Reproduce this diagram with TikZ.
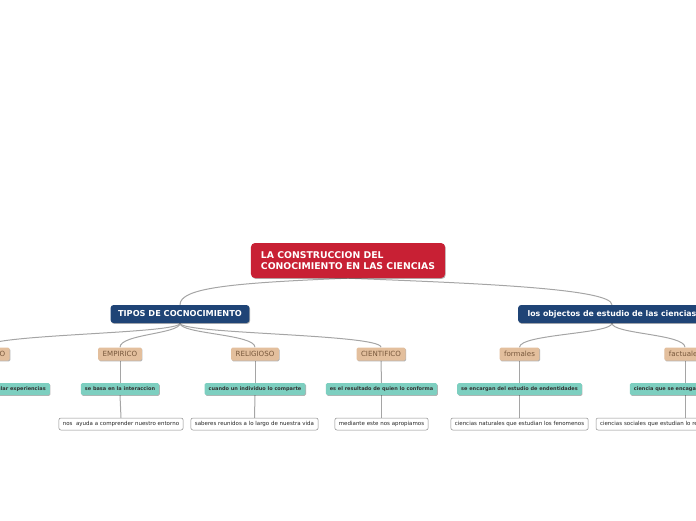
\documentclass[tikz,border=0pt]{standalone}
\usepackage{fontspec}
\usepackage{tikz}
\usetikzlibrary{backgrounds,shadows}
\newfontfamily\mapfont{DejaVu Sans}
\definecolor{rootred}{RGB}{200,32,52}
\definecolor{topblue}{RGB}{31,68,118}
\definecolor{tantone}{RGB}{227,191,157}
\definecolor{tantext}{RGB}{120,88,60}
\definecolor{tealtone}{RGB}{125,207,192}
\definecolor{linegray}{RGB}{165,165,165}

\begin{document}
\begin{tikzpicture}[x=1pt,y=1pt,
  boxshadow/.style={drop shadow={shadow xshift=0.7pt,shadow yshift=-0.9pt,opacity=0.3,fill=black}},
  rootbox/.style={fill=rootred,rounded corners=4pt,text=white,align=left,
    font=\mapfont\bfseries\fontsize{9.3}{11}\selectfont,inner xsep=10pt,minimum height=35pt,boxshadow},
  topbox/.style={fill=topblue,rounded corners=3pt,text=white,
    font=\mapfont\bfseries\fontsize{8.2}{9}\selectfont,inner xsep=7.5pt,minimum height=18pt,boxshadow},
  tanbox/.style={fill=tantone,rounded corners=1.5pt,text=tantext,
    font=\mapfont\fontsize{7.1}{8}\selectfont,inner xsep=4.5pt,minimum height=13pt,boxshadow},
  tealbox/.style={fill=tealtone,rounded corners=1.5pt,text=black!80,
    font=\mapfont\bfseries\fontsize{5}{6}\selectfont,inner xsep=4pt,minimum height=12pt,boxshadow},
  notebox/.style={fill=white,draw=black!45,line width=0.5pt,rounded corners=2pt,text=black!85,
    font=\mapfont\fontsize{5.5}{6}\selectfont,inner xsep=4pt,minimum height=12pt},
  link/.style={draw=linegray,line width=1pt}]
\useasboundingbox (0,-520) rectangle (696,0);
\clip (0,-520) rectangle (696,0);
% main topic and first branches:
\node[rootbox] (root) at (348,-260.5) {LA CONSTRUCCION DEL\\CONOCIMIENTO EN LAS CIENCIAS};
\node[topbox] (tipos) at (180,-314) {TIPOS DE COCNOCIMIENTO};
\node[topbox,font=\mapfont\bfseries\fontsize{7.8}{9}\selectfont,inner xsep=9.5pt] (objetos) at (612,-314) {los objectos de estudio de las ciencias};
% types of knowledge:
\node[tanbox] (filo) at (-16,-354) {FILOSOFICO};
\node[tanbox] (emp) at (120,-354) {EMPIRICO};
\node[tanbox] (rel) at (255,-354) {RELIGIOSO};
\node[tanbox] (cien) at (381,-354) {CIENTIFICO};
\node[tanbox] (form) at (519.5,-354) {formales};
\node[tanbox] (fact) at (685,-354) {factuales};
\node[tealbox] (filoA) at (-2,-389) {se basa en acumular experiencias};
\node[tealbox] (empA) at (120,-389) {se basa en la interaccion};
\node[tealbox] (relA) at (255,-389) {cuando un individuo lo comparte};
\node[tealbox] (cienA) at (381.5,-389) {es el resultado de quien lo conforma};
\node[tealbox] (formA) at (519.5,-389) {se encargan del estudio de endentidades};
\node[tealbox] (factA) at (685,-389) {ciencia que se encaga de los hechos};
\node[notebox] (empB) at (121,-424) {nos\ \ ayuda a comprender nuestro entorno};
\node[notebox] (relB) at (254.5,-424) {saberes reunidos a lo largo de nuestra vida};
\node[notebox] (cienB) at (381.5,-424) {mediante este nos apropiamos};
\node[notebox] (formB) at (519.5,-424) {ciencias naturales que estudian los fenomenos};
\node[notebox,minimum width=178pt,align=left,text width=170pt] (factB) at (685,-424) {ciencias sociales que estudian lo real};
% connectors behind the boxes:
\begin{scope}[on background layer]
\path[link] (root.south) .. controls (230,-283) and (180,-288) .. (tipos.north);
\path[link] (root.south) .. controls (466,-283) and (612,-288) .. (objetos.north);
\foreach \kid in {filo,emp,rel,cien}
  \path[link] (tipos.south) .. controls (180,-334) and (\kid.north |- 0,-334) .. (\kid.north);
\foreach \kid in {form,fact}
  \path[link] (objetos.south) .. controls (612,-334) and (\kid.north |- 0,-334) .. (\kid.north);
\foreach \kid in {filo,emp,rel,cien,form,fact}
  \path[link] (\kid.south) -- (\kid A.north);
\foreach \kid in {emp,rel,cien,form,fact}
  \path[link] (\kid A.south) -- (\kid B.north);
\end{scope}
\end{tikzpicture}
\end{document}
